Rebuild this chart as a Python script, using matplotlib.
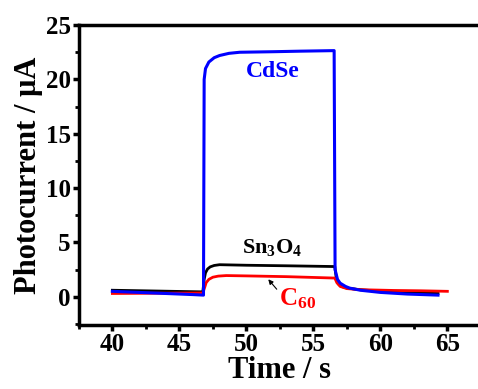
import matplotlib.pyplot as plt
from matplotlib.ticker import MultipleLocator

# values
t_cdse = [40, 42, 44, 46, 46.8, 46.85, 46.95, 47.2, 47.6, 48.0, 48.7, 49.5, 52, 54,
          56.55, 56.62, 56.8, 57.0, 57.4, 57.7, 58.5, 60, 62, 64.3]
i_cdse = [0.5, 0.4, 0.3, 0.2, 0.15, 20.0, 21.0, 21.6, 22.0, 22.2, 22.4, 22.5, 22.55, 22.6,
          22.65, 2.5, 1.6, 1.25, 0.95, 0.8, 0.6, 0.4, 0.25, 0.15]

t_sn3o4 = [40, 46.75, 46.85, 46.95, 47.1, 47.3, 47.6, 48, 50, 53, 56.6, 56.7, 56.85, 57.1, 57.5,
           58.5, 60, 62, 64.3]
i_sn3o4 = [0.6, 0.45, 1.6, 2.2, 2.55, 2.75, 2.88, 2.95, 2.9, 2.85, 2.78, 1.8, 1.2, 0.95, 0.8,
           0.65, 0.5, 0.35, 0.3]

t_c60 = [40, 46.75, 46.9, 47.0, 47.2, 47.5, 47.9, 48.5, 50, 53, 56.6, 56.75, 57.0, 57.5, 58.5,
         61, 63, 65]
i_c60 = [0.3, 0.35, 0.9, 1.3, 1.6, 1.8, 1.9, 1.95, 1.92, 1.85, 1.72, 1.3, 0.95, 0.75, 0.65,
         0.58, 0.55, 0.5]

plt.rcParams['font.family'] = 'Liberation Serif'
plt.rcParams['font.weight'] = 'bold'
plt.rcParams['mathtext.fontset'] = 'custom'
plt.rcParams['mathtext.rm'] = 'Liberation Serif:bold'
plt.rcParams['mathtext.bf'] = 'Liberation Serif:bold'
plt.rcParams['mathtext.it'] = 'Liberation Serif:bold:italic'
plt.rcParams['mathtext.default'] = 'bf'

fig = plt.figure(figsize=(4.78, 3.89), dpi=100)
ax = fig.add_axes([0.165, 0.1645, 0.841, 0.771])

ax.plot(t_sn3o4, i_sn3o4, color='black', lw=2.0)
ax.plot(t_c60, i_c60, color='#ff0000', lw=2.0)
ax.plot(t_cdse, i_cdse, color='#0000ff', lw=2.2)

ax.set_xlim(37.5, 67.5)
ax.set_ylim(-2.6, 25)
ax.xaxis.set_major_locator(MultipleLocator(5))
ax.xaxis.set_minor_locator(MultipleLocator(2.5))
ax.yaxis.set_major_locator(MultipleLocator(5))
ax.yaxis.set_minor_locator(MultipleLocator(2.5))
ax.tick_params(which='major', direction='out', length=4, width=2.5, labelsize=18, pad=2)
ax.tick_params(which='minor', direction='out', length=3, width=2)
for s in ax.spines.values():
    s.set_linewidth(2.5)

ax.set_xlabel('Time / s', fontsize=22, fontweight='bold', labelpad=0)
ax.set_ylabel('Photocurrent / \u03bcA', fontsize=22, fontweight='bold', labelpad=2)

ax.text(50.0, 20.2, 'CdSe', color='#0000ff', fontsize=17, fontweight='bold',
        ha='left', va='baseline')
ax.text(49.7, 4.0, 'Sn$_3$O$_4$', color='black', fontsize=16, fontweight='bold',
        ha='left', va='baseline')
ax.text(52.45, -0.8, 'C$_{60}$', color='#ff0000', fontsize=18, fontweight='bold',
        ha='left', va='baseline')
ax.annotate('', xy=(51.5, 1.8), xytext=(52.4, 0.5),
            arrowprops=dict(arrowstyle='-|>', color='black', lw=0.8, mutation_scale=7))

fig.savefig('out.png', dpi=100)
